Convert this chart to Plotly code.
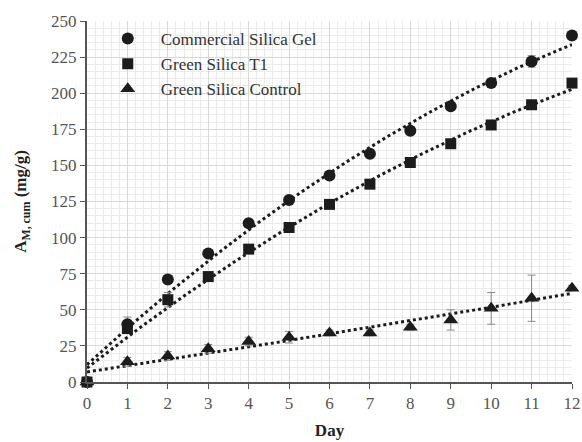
import numpy as np
import plotly.graph_objects as go

days = [0, 1, 2, 3, 4, 5, 6, 7, 8, 9, 10, 11, 12]
commercial = [0, 40, 71, 89, 110, 126, 143, 158, 174, 191, 207, 222, 240]
commercial_err = [0, 5, 2, 2, 2, 2, 2, 2, 2, 2, 2, 4, 2]
green_t1 = [0, 37, 57, 73, 92, 107, 123, 137, 152, 165, 178, 192, 207]
green_t1_err = [0, 2, 5, 2, 2, 2, 2, 2, 2, 2, 2, 2, 2]
control = [0, 14, 18, 23, 28, 31, 34, 34, 38, 43, 51, 58, 65]
control_err = [0, 3, 3, 3, 3, 4, 2, 2, 2, 7, 11, 16, 2]

names = ["Commercial Silica Gel", "Green Silica T1", "Green Silica Control"]
symbols = ["circle", "square", "triangle-up"]
sizes = [12, 11, 13]

FONT = "'Liberation Serif', 'Times New Roman', Times, serif"
INK = "#1c1c1c"

fig = go.Figure()
xs = np.linspace(0, 12, 200)
for ys in [commercial, green_t1, control]:
    coef = np.polyfit(days, ys, 2)
    fig.add_trace(go.Scatter(x=xs, y=np.polyval(coef, xs), mode="lines",
                             line=dict(color=INK, width=3, dash="dot"),
                             showlegend=False, hoverinfo="skip"))
for ys, err, nm, sym, sz in zip([commercial, green_t1, control],
                                [commercial_err, green_t1_err, control_err],
                                names, symbols, sizes):
    fig.add_trace(go.Scatter(x=days, y=ys, mode="markers", name=nm,
                             marker=dict(symbol=sym, size=sz, color=INK),
                             error_y=dict(type="data", array=err, visible=True,
                                          color="#8a8a8a", thickness=1, width=4),
                             cliponaxis=False))

fig.update_layout(
    width=582, height=442,
    margin=dict(l=87, r=10, t=21, b=60, autoexpand=False),
    paper_bgcolor="white", plot_bgcolor="white",
    font=dict(family=FONT, size=17, color="#333333"),
    showlegend=True,
    legend=dict(x=0.016, y=1.0, xanchor="left", yanchor="top",
                bgcolor="rgba(0,0,0,0)", itemwidth=56,
                font=dict(family=FONT, size=17, color="#333333"),
                tracegroupgap=0),
)
fig.update_xaxes(range=[0, 12], dtick=1, tick0=0, automargin=False,
                 tickfont=dict(family=FONT, size=17, color="#555555"),
                 showgrid=True, gridcolor="#d8d8d8", gridwidth=1,
                 minor=dict(dtick=0.2, showgrid=True, gridcolor="#ebebeb", gridwidth=1),
                 showline=True, linecolor="#555555", linewidth=2,
                 ticks="outside", ticklen=5, tickcolor="#555555",
                 zeroline=False,
                 title=dict(text="<b>Day</b>", font=dict(family=FONT, size=17, color="#222222"), standoff=12))
fig.update_yaxes(range=[0, 250], dtick=25, tick0=0, automargin=False,
                 tickfont=dict(family=FONT, size=17, color="#555555"),
                 showgrid=True, gridcolor="#d8d8d8", gridwidth=1,
                 minor=dict(dtick=5, showgrid=True, gridcolor="#ebebeb", gridwidth=1),
                 showline=True, linecolor="#555555", linewidth=2,
                 ticks="outside", ticklen=5, tickcolor="#555555",
                 zeroline=False,
                 title=dict(text="<b>A<sub>M, cum</sub> (mg/g)</b>", font=dict(family=FONT, size=17, color="#222222"), standoff=20))

fig.write_html("out.html", config={"displayModeBar": False},
               post_script="document.body.style.margin='0';")
